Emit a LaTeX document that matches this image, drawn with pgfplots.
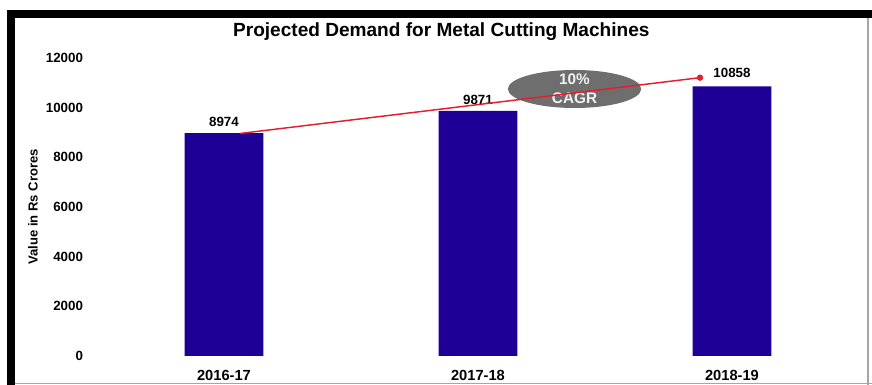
\documentclass[border=0pt]{standalone}
\usepackage{pgfplots}
\pgfplotsset{compat=1.18}
\usepackage{fontspec}
\setmainfont{Liberation Sans}
\usetikzlibrary{shapes.geometric}
\definecolor{barblue}{RGB}{30,0,150}
\definecolor{linered}{RGB}{228,30,50}
\definecolor{ellgray}{RGB}{110,110,110}
\begin{document}
\begin{tikzpicture}
\useasboundingbox (0,0) rectangle (654pt,288.75pt);
% frame
\fill[black] (5.25pt,0) rectangle (11.25pt,281.25pt);
\fill[black] (5.25pt,275.25pt) rectangle (654pt,281.25pt);
\draw[gray!70,line width=0.8pt] (651pt,0) -- (651pt,275.25pt);
\draw[gray!70,line width=0.8pt] (11.25pt,1.2pt) -- (654pt,1.2pt);
% title
\node[font=\bfseries\fontsize{14.3}{16}\selectfont] at (331pt,264.75pt) {Projected Demand for Metal Cutting Machines};
% y label
\node[rotate=90,font=\bfseries\fontsize{9.8}{11}\selectfont] at (24.75pt,133.5pt) {Value in Rs Crores};
% CAGR ellipse
\node[ellipse,fill=ellgray,minimum width=100pt,minimum height=28.5pt,inner sep=0pt] at (430.9pt,222pt) {};
\node[align=center,text=white!90!gray,font=\bfseries\fontsize{11.5}{14}\selectfont] at (430.9pt,222pt) {10\%\\CAGR};
\begin{axis}[
  at={(72.75pt,21.75pt)}, anchor=south west,
  scale only axis, width=571.5pt, height=223.5pt,
  xmin=-0.5, xmax=2.5, ymin=0, ymax=12000,
  axis line style={draw=none},
  major tick length=0pt,
  scaled y ticks=false,
  xtick={0,1,2}, xticklabels={2016-17,2017-18,2018-19},
  ytick={0,2000,4000,6000,8000,10000,12000},
  /pgf/number format/assume math mode=true,
  /pgf/number format/1000 sep={},
  xticklabel style={font=\bfseries\fontsize{11}{12}\selectfont, yshift=-7pt},
  yticklabel style={font=\bfseries\fontsize{10}{12}\selectfont, xshift=-7pt},
  clip=false,
]
\addplot[ybar, bar width=59pt, fill=barblue, draw=none] coordinates {(0,8974) (1,9871) (2,10858)};
\node[font=\bfseries\fontsize{10}{12}\selectfont] at (axis cs:0,9430) {8974};
\node[font=\bfseries\fontsize{10}{12}\selectfont] at (axis cs:1,10320) {9871};
\node[font=\bfseries\fontsize{10}{12}\selectfont] at (axis cs:2,11400) {10858};
\addplot[linered, line width=1.1pt, mark=*, mark size=1.8pt, mark indices={2}] coordinates {(0.063,8960) (1.874,11208)};
\end{axis}
\end{tikzpicture}
\end{document}
